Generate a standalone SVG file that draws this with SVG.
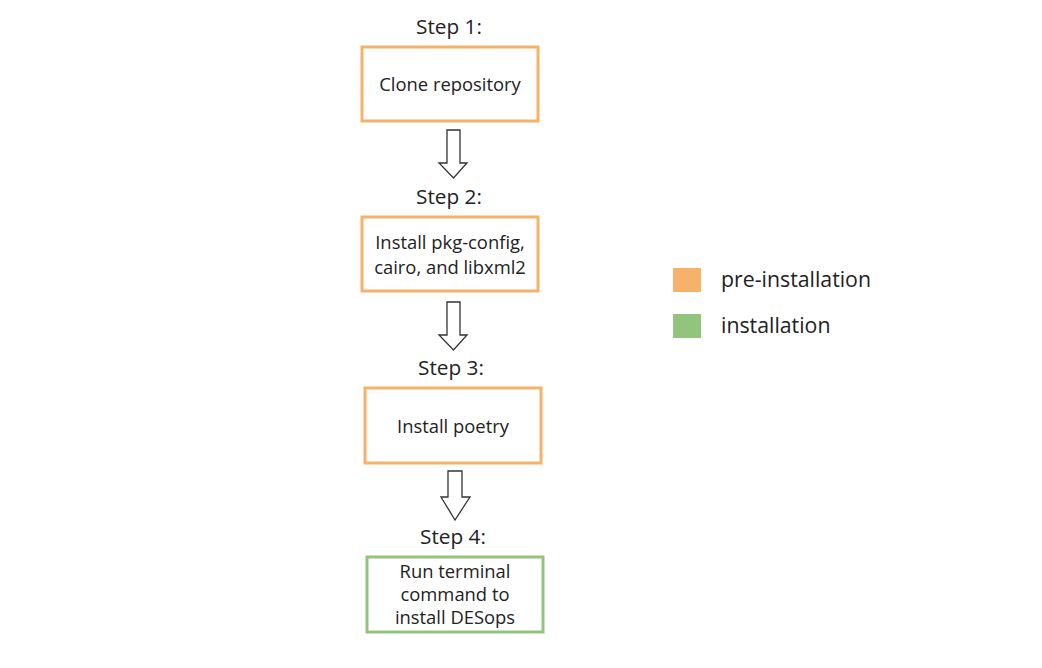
<svg xmlns="http://www.w3.org/2000/svg" width="1042" height="668" viewBox="0 0 1042 668">
<style>
text{font-family:"Open Sans","Liberation Sans",sans-serif;fill:#222;text-anchor:middle}
.step{font-size:20.8px}
.lbl{font-size:18.4px}
.leg{font-size:21.3px;text-anchor:start}
.pre{fill:#fff;stroke:#F6B26B;stroke-width:3}
.ins{fill:#fff;stroke:#93C47D;stroke-width:3}
.arr{fill:#fff;stroke:#333;stroke-width:1.3}
</style>
<rect width="1042" height="668" fill="#fff"/>
<g id="step1">
<text class="step" x="449" y="34">Step 1:</text>
<rect class="pre" x="362" y="47" width="176" height="74"/>
<text class="lbl" x="450" y="91">Clone repository</text>
</g>
<g id="step2">
<text class="step" x="449" y="204">Step 2:</text>
<rect class="pre" x="362" y="217" width="176" height="74"/>
<text class="lbl" x="450" y="249">Install pkg-config,</text>
<text class="lbl" x="450" y="274">cairo, and libxml2</text>
</g>
<g id="step3">
<text class="step" x="451" y="375">Step 3:</text>
<rect class="pre" x="365" y="388" width="176" height="75"/>
<text class="lbl" x="453" y="433">Install poetry</text>
</g>
<g id="step4">
<text class="step" x="453" y="544">Step 4:</text>
<rect class="ins" x="367" y="557" width="176" height="75"/>
<text class="lbl" x="455" y="578">Run terminal</text>
<text class="lbl" x="455" y="601">command to</text>
<text class="lbl" x="455" y="624">install DESops</text>
</g>
<g id="connectors">
<path class="arr" d="M447,130 H460 V163 H467 L453.5,178 L439,163 H447 Z"/>
<path class="arr" d="M447,302 H460 V335 H467 L453.5,350 L439,335 H447 Z"/>
<path class="arr" d="M448,471 H462 V497 H470 L455,520 L441,497 H448 Z"/>
</g>
<g id="legend">
<rect x="673" y="268" width="28" height="24" fill="#F6B26B"/>
<text class="leg" x="721" y="287">pre-installation</text>
<rect x="673" y="314" width="28" height="24" fill="#93C47D"/>
<text class="leg" x="721" y="333">installation</text>
</g>
</svg>
